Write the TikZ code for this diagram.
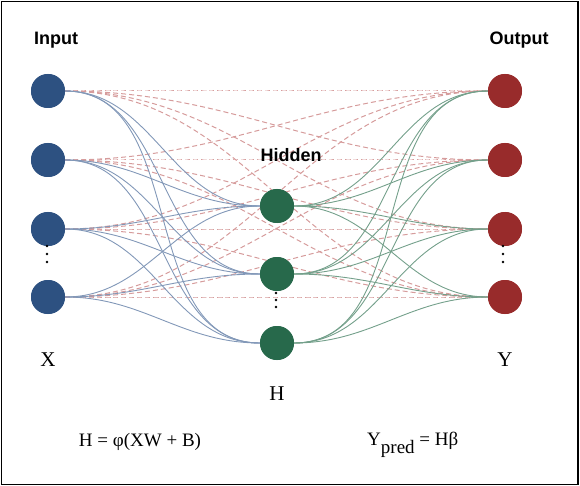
\documentclass[tikz,border=0pt]{standalone}
\usepackage{fontspec}
\setmainfont{Liberation Serif}
\setsansfont{Liberation Sans}
\usepackage{xcolor}

\definecolor{inblue}{HTML}{2D5181}
\definecolor{hidgreen}{HTML}{27694B}
\definecolor{outred}{HTML}{982B2B}
\definecolor{blueline}{HTML}{8298B8}
\definecolor{greenline}{HTML}{74A08B}
\definecolor{redline}{HTML}{D69C9C}

\begin{document}
\begin{tikzpicture}[x=1pt,y=-1pt,
    neuron/.style={circle,minimum size=34pt,inner sep=0pt},
    layertitle/.style={font=\sffamily\bfseries\fontsize{18}{20}\selectfont},
    varname/.style={anchor=base,font=\fontsize{21}{24}\selectfont},
    formula/.style={font=\fontsize{19}{21}\selectfont}]
    \useasboundingbox (0,0) rectangle (580,486);
    \draw[line width=1.5pt] (1.5,1.5) rectangle (578,484.5);

    % neurons
    \foreach \i/\yy in {1/91,2/160,3/229,4/297}
        \node[neuron,fill=inblue] (in\i) at (48,\yy) {};
    \foreach \i/\yy in {1/206,2/274,3/343}
        \node[neuron,fill=hidgreen] (hid\i) at (277,\yy) {};
    \foreach \i/\yy in {1/91,2/160,3/229,4/297}
        \node[neuron,fill=outred] (out\i) at (505,\yy) {};

    % input -> output (dashed)
    \foreach \i in {1,...,4}
        \foreach \j in {1,...,4}
            \draw[redline,line width=1pt,dash pattern=on 5pt off 3pt]
                (in\i) to[out=0,in=180] (out\j);
    % input -> hidden
    \foreach \i in {1,...,4}
        \foreach \j in {1,...,3}
            \draw[blueline,line width=0.9pt] (in\i) to[out=0,in=180] (hid\j);
    % hidden -> output
    \foreach \i in {1,...,3}
        \foreach \j in {1,...,4}
            \draw[greenline,line width=0.9pt] (hid\i) to[out=0,in=180] (out\j);

    % redraw neurons on top
    \foreach \i in {1,...,4} {
        \fill[inblue] (in\i) circle (17);
        \fill[outred] (out\i) circle (17);
    }
    \foreach \i in {1,...,3}
        \fill[hidgreen] (hid\i) circle (17);

    % dots
    \foreach \yy in {246,254,262} {
        \fill (47,\yy) circle (1.3);
        \fill (503,\yy) circle (1.3);
    }
    \foreach \yy in {293,300,307}
        \fill (276,\yy) circle (1.3);

    % titles
    \node[layertitle] (intitle) at (56,40) {Input};
    \node[layertitle] (hidtitle) at (291,155) {Hidden};
    \node[layertitle] (outtitle) at (519,40) {Output};

    \node[varname] (xlab) at (48,366) {X};
    \node[varname] (hlab) at (277,400) {H};
    \node[varname] (ylab) at (505,366) {Y};

    \node[formula,anchor=base] (hform) at (140,446) {H = φ(XW + B)};
    \node[formula,anchor=base west,inner sep=0pt] (yform) at (367,445)
        {Y\raisebox{-8pt}{pred} = Hβ};
\end{tikzpicture}
\end{document}
